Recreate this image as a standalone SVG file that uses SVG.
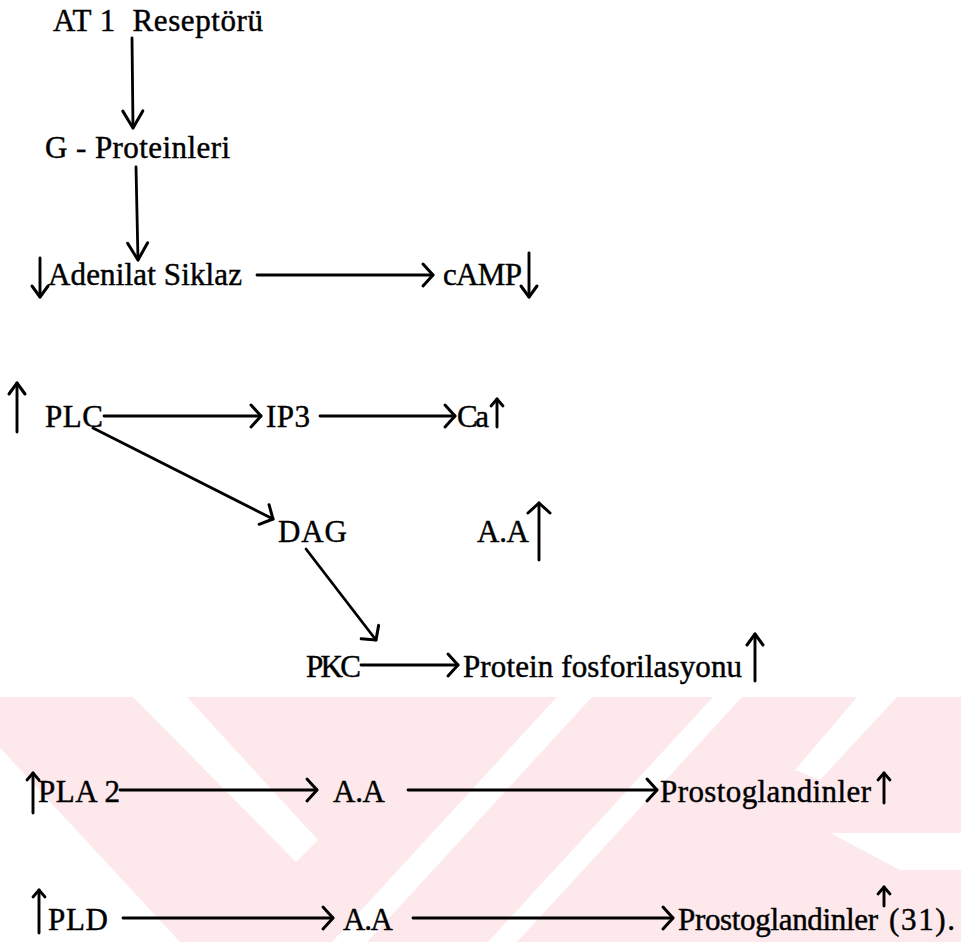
<svg xmlns="http://www.w3.org/2000/svg" width="961" height="942" viewBox="0 0 961 942">
<style>
.t{font-family:"Liberation Serif","Times New Roman",serif;font-size:31px;fill:#000;stroke:#000;stroke-width:0.45}
.c{stroke:#000;stroke-width:2.8;fill:none;stroke-linecap:round}
.i{stroke:#000;stroke-width:2.9;fill:none;stroke-linecap:round}
.wm{fill:#fde8ec}
.wh{fill:#fff}
</style>
<defs>
<marker id="ah" viewBox="-14 -14 16 28" refX="0" refY="0" markerWidth="16" markerHeight="28" orient="auto" markerUnits="userSpaceOnUse" overflow="visible"><path d="M-10,-11 L0,0 L-10,11" fill="none" stroke="#000" stroke-width="3" stroke-linecap="round" stroke-linejoin="round"/></marker>
<marker id="av" viewBox="-20 -14 22 28" refX="0" refY="0" markerWidth="22" markerHeight="28" orient="auto" markerUnits="userSpaceOnUse" overflow="visible"><path d="M-17,-10 L0,0 L-17,10" fill="none" stroke="#000" stroke-width="3" stroke-linecap="round" stroke-linejoin="round"/></marker>
<marker id="am" viewBox="-14 -10 16 20" refX="0" refY="0" markerWidth="16" markerHeight="20" orient="auto" markerUnits="userSpaceOnUse" overflow="visible"><path d="M-11,-8 L0,0 L-11,8" fill="none" stroke="#000" stroke-width="3" stroke-linecap="round" stroke-linejoin="round"/></marker>
<marker id="as" viewBox="-10 -8 12 16" refX="0" refY="0" markerWidth="12" markerHeight="16" orient="auto" markerUnits="userSpaceOnUse" overflow="visible"><path d="M-7,-6 L0,0 L-7,6" fill="none" stroke="#000" stroke-width="2.8" stroke-linecap="round" stroke-linejoin="round"/></marker>
</defs>
<rect width="961" height="942" fill="#fff"/>
<g id="watermark">
<rect class="wm" x="0" y="697" width="961" height="245"/>
<polygon class="wh" points="133,697 187,697 318,840 296,862"/>
<polygon class="wh" points="0,697 -47,697 180,942 0,942"/>
<polygon class="wh" points="557,697 592,697 367,942 332,942"/>
<polygon class="wh" points="713,697 742,697 517,942 488,942"/>
<polygon class="wh" points="857,697 897,697 820,780 795,770"/>
<polygon class="wh" points="830,833 961,833 961,870 900,870"/>
</g>
<g id="connectors">
<path class="c" d="M132,38 L133,128" marker-end="url(#av)"/>
<path class="c" d="M136,167 L138,260" marker-end="url(#av)"/>
<path class="c" d="M257,275 L433,275" marker-end="url(#ah)"/>
<path class="c" d="M104,416 L261,416" marker-end="url(#ah)"/>
<path class="c" d="M320,416 L455,416" marker-end="url(#ah)"/>
<path class="c" d="M93,428 L273,519" marker-end="url(#ah)"/>
<path class="c" d="M306,549 L376,640" marker-end="url(#ah)"/>
<path class="c" d="M361,665 L458,665" marker-end="url(#ah)"/>
<path class="c" d="M120,790 L317,790" marker-end="url(#ah)"/>
<path class="c" d="M408,790 L657,790" marker-end="url(#ah)"/>
<path class="c" d="M123,918 L333,918" marker-end="url(#ah)"/>
<path class="c" d="M413,918 L673,918" marker-end="url(#ah)"/>
</g>
<g id="n-at1"><text class="t" x="53" y="31" xml:space="preserve" textLength="210">AT 1  Reseptörü</text></g>
<g id="n-gprot"><text class="t" x="45" y="158" textLength="185">G - Proteinleri</text></g>
<g id="n-adenilat"><path class="i" d="M40,258 L40,297" marker-end="url(#am)"/><text class="t" x="48" y="285" textLength="194">Adenilat Siklaz</text></g>
<g id="n-camp"><text class="t" x="443" y="285" textLength="79">cAMP</text><path class="i" d="M529,253 L529,297" marker-end="url(#am)"/></g>
<g id="n-plc"><path class="i" d="M17,432 L17,383" marker-end="url(#am)"/><text class="t" x="45" y="427" textLength="58">PLC</text></g>
<g id="n-ip3"><text class="t" x="266" y="427" textLength="44">IP3</text></g>
<g id="n-ca"><text class="t" x="457" y="427" textLength="32">Ca</text><path class="i" d="M497,427 L497,399" marker-end="url(#as)"/></g>
<g id="n-dag"><text class="t" x="278" y="542" textLength="69">DAG</text></g>
<g id="n-aa1"><text class="t" x="477" y="542" textLength="52">A.A</text><path class="i" d="M539,560 L539,503" marker-end="url(#ah)"/></g>
<g id="n-pkc"><text class="t" x="306" y="677" textLength="55">PKC</text></g>
<g id="n-protein"><text class="t" x="463" y="677" textLength="279">Protein fosforilasyonu</text><path class="i" d="M755,681 L755,634" marker-end="url(#am)"/></g>
<g id="n-pla2"><path class="i" d="M33,813 L33,773" marker-end="url(#as)"/><text class="t" x="38" y="802" textLength="82">PLA 2</text></g>
<g id="n-aa2"><text class="t" x="333" y="802" textLength="52">A.A</text></g>
<g id="n-prosto1"><text class="t" x="660" y="802" textLength="211">Prostoglandinler</text><path class="i" d="M884,803 L884,773" marker-end="url(#as)"/></g>
<g id="n-pld"><path class="i" d="M39,933 L39,890" marker-end="url(#as)"/><text class="t" x="48" y="930" textLength="60">PLD</text></g>
<g id="n-aa3"><text class="t" x="343" y="930" textLength="50">A.A</text></g>
<g id="n-prosto2"><text class="t" x="678" y="930" textLength="200">Prostoglandinler</text><path class="i" d="M884,906 L884,887" marker-end="url(#as)"/><text class="t" x="889" y="930" textLength="66">(31).</text></g>
</svg>
